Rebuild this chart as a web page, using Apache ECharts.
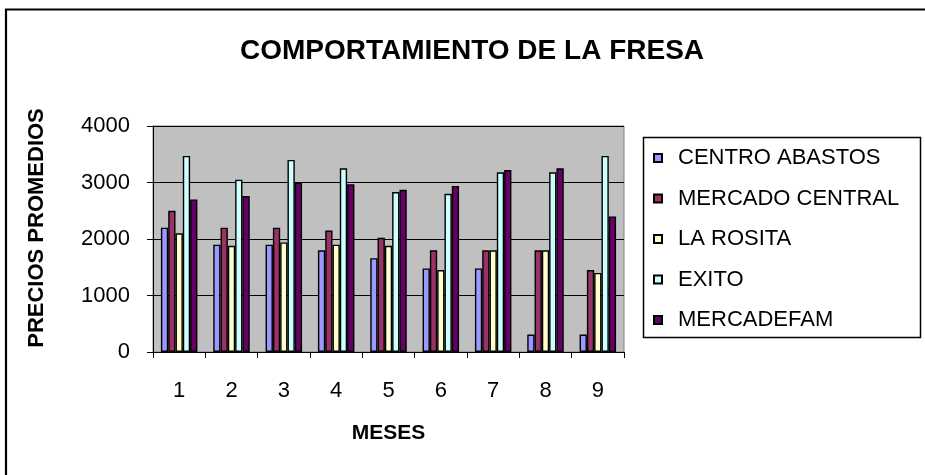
<!DOCTYPE html>
<html>
<head>
<meta charset="utf-8">
<script src="https://cdn.jsdelivr.net/npm/echarts@6/dist/echarts.min.js"></script>
<style>
  html, body { margin: 0; padding: 0; background: #fff; }
  #chart { width: 925px; height: 475px; }
</style>
</head>
<body>
<div id="chart"></div>
<script>
// datos
const meses = ['1', '2', '3', '4', '5', '6', '7', '8', '9'];
const centroAbastos  = [2200, 1900, 1900, 1800, 1660, 1480, 1480, 310, 310];
const mercadoCentral = [2500, 2200, 2200, 2150, 2020, 1800, 1800, 1800, 1450];
const laRosita       = [2100, 1880, 1940, 1900, 1880, 1450, 1800, 1800, 1400];
const exito          = [3470, 3050, 3400, 3250, 2830, 2800, 3180, 3180, 3470];
const mercadefam     = [2700, 2760, 3000, 2970, 2870, 2940, 3220, 3250, 2400];
const yTicks = [0, 1000, 2000, 3000, 4000];

const FONT = '"Liberation Sans", Arial, sans-serif';
const colores = ['#9999FF', '#993366', '#FFFFCC', '#CCFFFF', '#660066'];

function serie(name, data, color) {
  return {
    name: name,
    type: 'bar',
    data: data,
    barWidth: 7.3,
    barGap: '0%',
    itemStyle: { color: color, borderColor: '#000', borderWidth: 1.4 },
    emphasis: { disabled: true }
  };
}

const chart = echarts.init(document.getElementById('chart'));
chart.setOption({
  animation: false,
  textStyle: { fontFamily: FONT },
  title: {
    text: 'COMPORTAMIENTO DE LA FRESA',
    left: 467,
    top: 32,
    textAlign: 'center',
    textStyle: { fontFamily: FONT, fontSize: 28, fontWeight: 'bold', color: '#000' }
  },
  legend: {
    orient: 'vertical',
    left: 643,
    top: 137,
    padding: [10, 10, 9, 10],
    itemWidth: 8,
    itemHeight: 8,
    itemGap: 18.5,
    icon: 'rect',
    textStyle: { fontFamily: FONT, fontSize: 22, color: '#000', lineHeight: 22, padding: [0, 0, 0, 11] },
    data: ['CENTRO ABASTOS', 'MERCADO CENTRAL', 'LA ROSITA', 'EXITO', 'MERCADEFAM']
  },
  grid: {
    left: 153, right: 301, top: 126, bottom: 123,
    show: true,
    backgroundColor: '#C0C0C0',
    borderColor: '#808080',
    borderWidth: 1
  },
  xAxis: {
    type: 'category',
    data: meses,
    name: 'MESES',
    nameLocation: 'middle',
    nameGap: 71,
    nameTextStyle: { fontFamily: FONT, fontSize: 21, fontWeight: 'bold', color: '#000' },
    axisLine: { lineStyle: { color: '#000', width: 1 } },
    axisTick: { show: true, length: 6, lineStyle: { color: '#000' } },
    axisLabel: { margin: 28, fontFamily: FONT, fontSize: 22, color: '#000' }
  },
  yAxis: {
    type: 'value',
    min: yTicks[0],
    max: yTicks[yTicks.length - 1],
    interval: 1000,
    name: 'PRECIOS PROMEDIOS',
    nameLocation: 'middle',
    nameRotate: 90,
    nameGap: 105,
    nameTextStyle: { fontFamily: FONT, fontSize: 22, fontWeight: 'bold', color: '#000', padding: [0, 0, 0, 22] },
    axisLine: { show: true, lineStyle: { color: '#000', width: 1 } },
    axisTick: { show: true, length: 6, lineStyle: { color: '#000' } },
    axisLabel: { margin: 23, fontFamily: FONT, fontSize: 22, color: '#000', formatter: function (v) { return String(v); } },
    splitLine: { show: true, lineStyle: { color: '#000', width: 1 } }
  },
  graphic: [
    {
      type: 'rect',
      z: -1,
      shape: { x: 643.5, y: 137.5, width: 277, height: 200 },
      style: { fill: '#fff', stroke: '#000', lineWidth: 1.5 }
    },
    {
      type: 'polyline',
      shape: { points: [[6, 480], [6, 9.5], [930, 9.5]] },
      style: { fill: null, stroke: '#000', lineWidth: 2.2 }
    }
  ],
  series: [
    serie('CENTRO ABASTOS', centroAbastos, colores[0]),
    serie('MERCADO CENTRAL', mercadoCentral, colores[1]),
    serie('LA ROSITA', laRosita, colores[2]),
    serie('EXITO', exito, colores[3]),
    serie('MERCADEFAM', mercadefam, colores[4])
  ]
});
</script>
</body>
</html>
